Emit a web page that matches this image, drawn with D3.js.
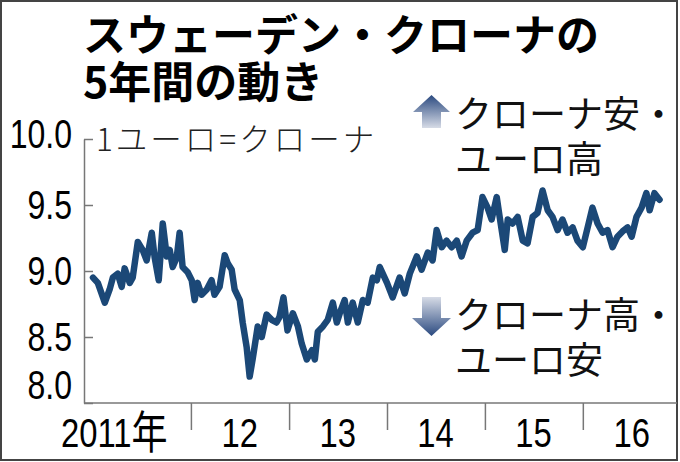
<!DOCTYPE html>
<html><head><meta charset="utf-8">
<script src="https://cdn.jsdelivr.net/npm/d3@7"></script>
<style>body{margin:0;background:#fff}svg{display:block}</style>
</head><body><svg id="c" width="680" height="462"></svg>
<script>
const titleLines = ["スウェーデン・クローナの", "5年間の動き"];
const unitLabel = "1ユーロ=クローナ";
const yTickValues = [8.0, 8.5, 9.0, 9.5, 10.0];
const yTickLabels = ["8.0", "8.5", "9.0", "9.5", "10.0"];
const yearBoundaries = ["2012-01-01", "2013-01-01", "2014-01-01", "2015-01-01", "2016-01-01"];
const yearLabelDates = ["2011-07-01", "2012-07-01", "2013-07-01", "2014-07-01", "2015-07-01", "2016-07-01"];
const yearLabels = ["2011", "12", "13", "14", "15", "16"];
const yearSuffix = "年";
const upNote = ["クローナ安・", "ユーロ高"];
const downNote = ["クローナ高・", "ユーロ安"];

const dates = [
"2011-01-01","2011-01-19","2011-02-14","2011-03-04","2011-03-16","2011-04-03","2011-04-18","2011-04-29",
"2011-05-18","2011-05-29","2011-06-17","2011-07-05","2011-07-20","2011-08-08","2011-08-19","2011-09-03",
"2011-09-18","2011-10-03","2011-10-14","2011-10-25","2011-11-09","2011-11-20","2011-12-01","2011-12-20",
"2012-01-04","2012-01-15","2012-01-26","2012-02-10","2012-02-29","2012-03-18","2012-03-29","2012-04-17",
"2012-05-06","2012-05-17","2012-06-01","2012-06-12","2012-07-01","2012-07-12","2012-07-27","2012-08-07",
"2012-08-18","2012-09-06","2012-09-21","2012-10-09","2012-10-28","2012-11-15","2012-11-26","2012-12-11",
"2012-12-26","2013-01-15","2013-02-03","2013-02-17","2013-03-08","2013-03-27","2013-04-07","2013-04-18",
"2013-05-07","2013-05-25","2013-06-13","2013-06-28","2013-07-09","2013-07-27","2013-08-08","2013-08-26",
"2013-09-14","2013-10-03","2013-10-21","2013-11-09","2013-11-24","2013-12-05","2014-01-01","2014-01-22",
"2014-02-17","2014-03-08","2014-03-27","2014-04-22","2014-05-10","2014-06-02","2014-06-20","2014-07-05",
"2014-07-24","2014-08-11","2014-08-30","2014-09-18","2014-10-06","2014-10-25","2014-11-16","2014-12-05",
"2014-12-23","2015-01-11","2015-01-26","2015-02-14","2015-02-25","2015-03-16","2015-03-27","2015-04-14",
"2015-05-03","2015-05-22","2015-06-09","2015-06-28","2015-07-16","2015-08-04","2015-08-23","2015-09-10",
"2015-09-29","2015-10-17","2015-11-05","2015-11-24","2015-12-12","2016-01-01","2016-01-19","2016-02-06",
"2016-02-25","2016-03-15","2016-04-02","2016-04-21","2016-05-09","2016-05-28","2016-06-16","2016-07-01",
"2016-07-19","2016-08-07","2016-08-25","2016-09-06","2016-09-24","2016-10-13"
];
const values = [
8.95,8.91,8.76,8.86,8.95,8.98,8.88,9.02,
8.91,8.95,9.22,9.16,9.08,9.29,9.10,8.93,
9.36,9.11,9.16,9.03,9.10,9.29,9.03,8.99,
8.93,8.78,8.91,8.82,8.86,8.93,8.82,8.88,
9.12,9.06,9.01,8.86,8.78,8.61,8.42,8.20,
8.33,8.58,8.50,8.67,8.63,8.61,8.65,8.80,
8.55,8.68,8.58,8.45,8.33,8.40,8.33,8.54,
8.58,8.63,8.76,8.61,8.68,8.78,8.61,8.76,
8.61,8.78,8.76,8.95,8.93,9.03,8.91,8.80,
8.95,8.83,8.98,9.11,9.01,9.14,9.08,9.31,
9.18,9.23,9.18,9.23,9.11,9.23,9.29,9.31,
9.56,9.48,9.39,9.56,9.41,9.16,9.39,9.36,
9.41,9.23,9.21,9.41,9.44,9.61,9.46,9.41,
9.31,9.39,9.29,9.33,9.23,9.18,9.33,9.48,
9.36,9.29,9.31,9.18,9.26,9.30,9.33,9.26,
9.41,9.48,9.59,9.46,9.59,9.54
];

const parse = d3.timeParse("%Y-%m-%d");
const svg = d3.select("#c");
const numFont = "'Liberation Sans',Arial,sans-serif";
const cjkFont = "'Noto Sans CJK JP','Noto Sans CJK SC',sans-serif";
const squeeze = 0.8;

const x = d3.scaleTime().domain([parse("2011-01-01"), parse("2017-01-01")]).range([93, 681]);
const y = d3.scaleLinear().domain([8, 10]).range([403, 139]);

// frame
svg.append("rect").attr("x", 1).attr("y", 1).attr("width", 676).attr("height", 459)
  .attr("fill", "#fff").attr("stroke", "#444").attr("stroke-width", 2);

// multi-line text helper (one text element, one tspan per line)
function block(lines, x0, y0, lh, attrs) {
  const t = svg.append("text");
  Object.entries(attrs).forEach(([k, v]) => t.attr(k, v));
  t.selectAll("tspan").data(lines).join("tspan")
    .attr("x", x0).attr("y", (d, i) => y0 + i * lh).text(d => d);
  return t;
}

// title
block(titleLines, 83, 51, 47, {"font-family": cjkFont, "font-weight": 700, "font-size": 43, "fill": "#000"});

// y axis
const yAxis = svg.append("g").attr("transform", "translate(84,0)")
  .call(d3.axisRight(y).tickValues(yTickValues).tickSize(9).tickSizeOuter(0).tickFormat(""));
yAxis.selectAll("path,line").attr("stroke", "#777").attr("stroke-width", 1.5);

const yLabelShift = {"10.0": -5, "8.0": -18};
svg.append("g").selectAll("text").data(yTickValues).join("text")
  .attr("transform", (d, i) => `translate(72,${y(d) + 14 + (yLabelShift[yTickLabels[i]] || 0)}) scale(${squeeze},1)`)
  .attr("text-anchor", "end").attr("font-family", numFont).attr("font-size", 40)
  .attr("fill", "#000").text((d, i) => yTickLabels[i]);

// x axis
const xAxis = svg.append("g").attr("transform", "translate(0,403)")
  .call(d3.axisBottom(x).tickValues(yearBoundaries.map(parse)).tickSize(27).tickSizeOuter(0).tickFormat(""));
xAxis.select("path").attr("d", "M84,0H677");
xAxis.selectAll("path,line").attr("stroke", "#777").attr("stroke-width", 1.5);

const yl = svg.append("g").selectAll("text").data(yearLabelDates).join("text")
  .attr("transform", (d, i) => i === 0
      ? `translate(${x(parse(d)) + 26},447) scale(${squeeze},1)`
      : `translate(${x(parse(d))},447) scale(${squeeze},1)`)
  .attr("text-anchor", (d, i) => i === 0 ? "end" : "middle")
  .attr("font-family", numFont).attr("font-size", 41).attr("fill", "#000");
yl.append("tspan").text((d, i) => yearLabels[i]);
yl.filter((d, i) => i === 0).append("tspan")
  .attr("font-family", cjkFont).attr("font-size", 45).attr("dy", 2).text(yearSuffix);

// unit label
svg.append("text").attr("x", 96).attr("y", 151)
  .attr("font-family", cjkFont).attr("font-size", 31.5).attr("font-weight", 300)
  .attr("letter-spacing", 3).attr("fill", "#222").text(unitLabel);

// line
const line = d3.line().x(d => x(d.date)).y(d => y(d.value)).curve(d3.curveLinear);
const series = dates.map((d, i) => ({date: parse(d), value: values[i]}));
svg.append("path").datum(series).attr("d", line)
  .attr("fill", "none").attr("stroke", "#1b4877").attr("stroke-width", 6.5)
  .attr("stroke-linejoin", "round").attr("stroke-linecap", "round");

// arrows
const defs = svg.append("defs");
const gUp = defs.append("linearGradient").attr("id", "gUp").attr("x1", 0).attr("y1", 0).attr("x2", 0).attr("y2", 1);
gUp.append("stop").attr("offset", "0%").attr("stop-color", "#2b4a80");
gUp.append("stop").attr("offset", "100%").attr("stop-color", "#d6dbe6");
const gDn = defs.append("linearGradient").attr("id", "gDn").attr("x1", 0).attr("y1", 0).attr("x2", 0).attr("y2", 1);
gDn.append("stop").attr("offset", "0%").attr("stop-color", "#d6dbe6");
gDn.append("stop").attr("offset", "100%").attr("stop-color", "#2b4a80");

svg.append("path").attr("d", "M431.5,95L450,112H441V128H422V112H413Z").attr("fill", "url(#gUp)");
svg.append("path").attr("d", "M422,297H441V318H451L431.5,336L412,318H422Z").attr("fill", "url(#gDn)");

block(upNote, 455, 128, 45, {"font-family": cjkFont, "font-size": 37, "fill": "#111"});
block(downNote, 455, 329, 45, {"font-family": cjkFont, "font-size": 37, "fill": "#111"});
</script></body></html>
